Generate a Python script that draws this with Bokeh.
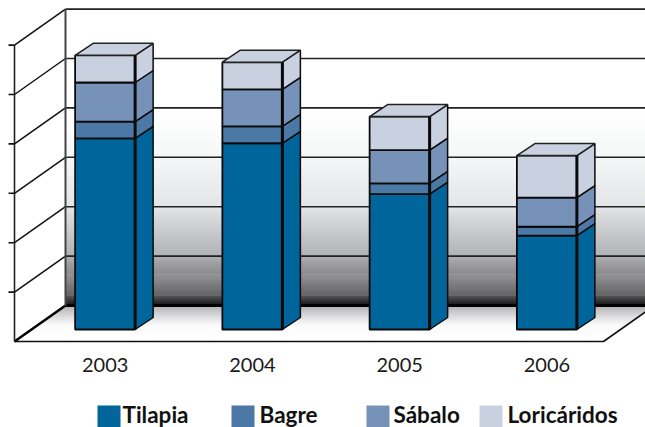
from bokeh.plotting import figure
from bokeh.models import Range1d
from bokeh.core.properties import value
from bokeh.embed import file_html
from bokeh.resources import INLINE

years = ["2003", "2004", "2005", "2006"]
series = ["Tilapia", "Bagre", "Sábalo", "Loricáridos"]
tilapia = [3.87, 3.77, 2.74, 1.90]
bagre = [0.34, 0.34, 0.22, 0.18]
sabalo = [0.79, 0.75, 0.67, 0.59]
loricaridos = [0.55, 0.55, 0.68, 0.85]
colors = ["#00659b", "#4c78a6", "#7792b8", "#c9d1e1"]

PX_X = 147.25   # pixels per category
PX_Y = 49.4     # pixels per value unit
X0, Y0 = 14, 341
W, H = 645, 427
DX, DY = 51 / PX_X, 36 / PX_Y
VMAX = 6
NCAT = 4

def xr(px): return (px - X0) / PX_X
def yr(px): return (Y0 - px) / PX_Y

p = figure(width=W, height=H, output_backend="svg", toolbar_location=None,
           x_range=Range1d(xr(0), xr(645)), y_range=Range1d(yr(427), yr(0)),
           min_border=0, outline_line_color=None, background_fill_color="white",
           border_fill_color="white")
p.axis.visible = False
p.grid.visible = False

# back wall gradient
stops = [(6.0, (255, 255, 255)), (4.0, (255, 255, 255)), (3.0, (246, 247, 247)),
         (2.0, (226, 227, 229)), (1.0, (176, 177, 181)), (0.85, (158, 158, 162)),
         (0.55, (132, 132, 135)), (0.2, (88, 88, 90)), (0.03, (30, 30, 30)), (0.0, (10, 10, 10))]
def col(v, st):
    for (a, ca), (b, cb) in zip(st, st[1:]):
        if b <= v <= a and a != b:
            t = (v - b) / (a - b)
            return "#%02x%02x%02x" % tuple(round(cb[i] + (ca[i] - cb[i]) * t) for i in range(3))
    return "#%02x%02x%02x" % st[-1][1]
n = 300
top = [DY + VMAX * (i + 1) / n + 0.01 for i in range(n)]
bot = [DY + VMAX * i / n for i in range(n)]
cs = [col(VMAX * (i + .5) / n, stops) for i in range(n)]
p.quad(left=DX, right=NCAT + DX, top=top, bottom=bot, fill_color=cs, line_color=None)

# floor gradient
fstops = [(1.0, (150, 150, 152)), (0.72, (205, 205, 207)), (0.45, (250, 250, 250)), (0.0, (255, 255, 255))]
fn = 72
xs, ys, fc = [], [], []
for i in range(fn):
    a, b = i / fn, (i + 1.15) / fn
    xs.append([a * DX, NCAT + a * DX, NCAT + b * DX, b * DX])
    ys.append([a * DY, a * DY, b * DY, b * DY])
    fc.append(col((i + .5) / fn, fstops))
p.patches(xs, ys, fill_color=fc, line_color=None)

# floor outline and back wall edge
p.line([0, NCAT, NCAT + DX], [0, 0, DY], line_color="#111111", line_width=1.6)
p.line([DX, NCAT + DX], [DY, DY], line_color="#000000", line_width=3)
p.line([0, DX], [0, DY], line_color="#000000", line_width=2.5)

# horizontal gridlines on back wall, diagonal ones on side wall
for v in range(1, VMAX + 1):
    p.line([DX, NCAT + DX], [DY + v, DY + v], line_color="#222222", line_width=1.6)
    p.line([0, DX], [v, DY + v], line_color="#111111", line_width=1.5)
p.line([DX, DX], [DY, DY + VMAX], line_color="#444444", line_width=2)
p.line([0, 0], [0, VMAX], line_color="#222222", line_width=1.6)
for v in range(1, VMAX + 1):
    p.line([-6 / PX_X, 0], [v, v], line_color="#111111", line_width=1.6)

# stacked 3D bars
BW = 0.4075
f = 1 / 3
for i in range(NCAT):
    c = i + 0.5 + f * DX
    l, r = c - BW / 2, c + BW / 2
    b = f * DY
    d_x, d_y = 18 / PX_X, f * DY
    for vals, colr in zip([tilapia, bagre, sabalo, loricaridos], colors):
        t = b + vals[i]
        p.patch([r, r + d_x, r + d_x, r], [b, b + d_y, t + d_y, t],
                fill_color=colr, line_color="#0a0a0a", line_width=1.5)
        p.quad(left=l, right=r, bottom=b, top=t, fill_color=colr,
               line_color="#0a0a0a", line_width=1.8)
        b = t
    p.patch([l, l + d_x, r + d_x, r], [b, b + d_y, b + d_y, b],
            fill_color=colors[3], line_color="#222222", line_width=1.5)
    p.line([r, r], [f * DY, b], line_color="#0a0a0a", line_width=3)

# category labels
p.text(x=[i + 0.5 + DX / 3 for i in range(NCAT)], y=[yr(364)] * NCAT, text=years,
       text_font=value("Lato"), text_font_size="20px", text_color="#1a1a1a",
       text_align="center", text_baseline="middle")

# legend
lx = [97, 231, 366, 479]
tx = [122, 259, 393, 507]
for sx, txx, name, colr in zip(lx, tx, series, colors):
    p.quad(left=xr(sx), right=xr(sx + 23), top=yr(405), bottom=yr(427), fill_color=colr, line_color=None)
    p.text(x=[xr(txx)], y=[yr(413.5)], text=[name], text_font=value("Lato"),
           text_font_style="bold", text_font_size="22.5px", text_color="#111111",
           text_align="left", text_baseline="middle")

open("out.html", "w").write(file_html(p, INLINE))
